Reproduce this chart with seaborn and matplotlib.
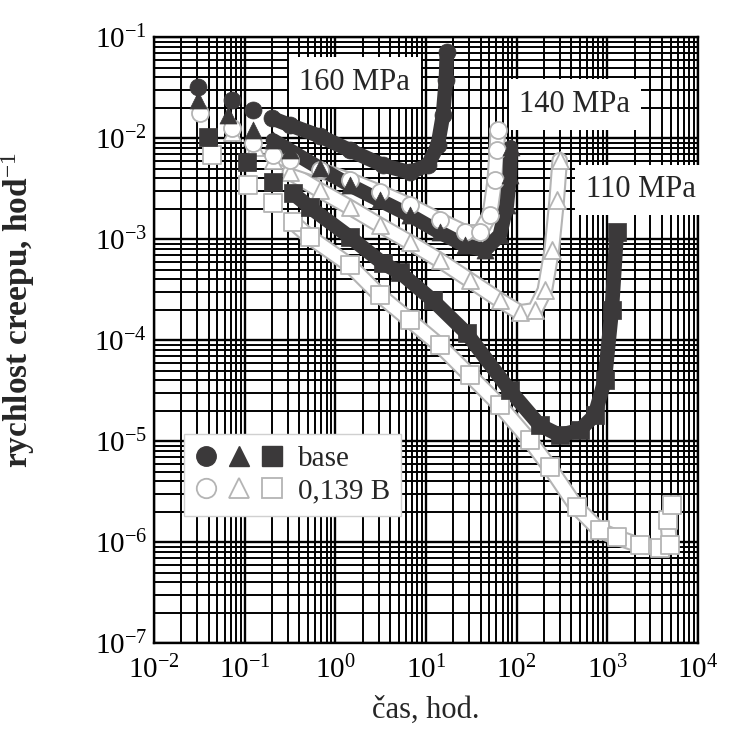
import numpy as np
import pandas as pd
import matplotlib
matplotlib.use("Agg")
import matplotlib.pyplot as plt
import matplotlib.patheffects as pe
from matplotlib.lines import Line2D
from matplotlib.legend_handler import HandlerTuple
from matplotlib.ticker import LogLocator, FuncFormatter, NullFormatter
import seaborn as sns

# ---------------- data ----------------
# 160 MPa, base (filled circles)
t_160_base = [0.0305, 0.0724, 0.124, 0.200, 0.315, 0.676, 1.45, 3.35, 6.64, 10.5, 13.5, 15.4, 16.6, 17.0]
r_160_base = [0.0320, 0.0238, 0.0189, 0.0158, 0.0135, 0.0105, 0.0076, 0.00541, 0.0046, 0.00541, 0.00853, 0.0169, 0.0375, 0.071]
# 160 MPa, 0,139 B (open circles)
t_160_b = [0.0321, 0.0724, 0.124, 0.205, 0.315, 0.676, 1.45, 3.10, 6.64, 14.2, 26.8, 39.3, 50.6, 57.5, 60.5, 62.1]
r_160_b = [0.0177, 0.0126, 0.00891, 0.00679, 0.00605, 0.00482, 0.00384, 0.00292, 0.00217, 0.00154, 0.00117, 0.00117, 0.00173, 0.00384, 0.0076, 0.0120]
# 140 MPa, base (filled triangles)
t_140_base = [0.0305, 0.0655, 0.124, 0.205, 0.315, 0.676, 1.45, 3.10, 6.64, 14.2, 26.8, 44.6, 65.3, 78.0, 84.1, 86.3]
r_140_base = [0.0238, 0.0169, 0.0120, 0.00955, 0.0076, 0.00505, 0.00343, 0.00243, 0.00173, 0.00117, 0.000873, 0.000778, 0.00110, 0.00217, 0.0043, 0.00815]
# 140 MPa, 0,139 B (open triangles)
t_140_b = [0.0724, 0.130, 0.205, 0.315, 0.676, 1.45, 3.10, 6.64, 14.2, 30.5, 65.3, 108, 159, 205, 244, 277, 299]
r_140_b = [0.0115, 0.00815, 0.00605, 0.0046, 0.00305, 0.00207, 0.00138, 0.000933, 0.000619, 0.000393, 0.000249, 0.000189, 0.000198, 0.000313, 0.000778, 0.00243, 0.00605]
# 110 MPa, base (filled squares)
t_110_base = [0.0394, 0.106, 0.205, 0.341, 0.525, 1.45, 3.35, 5.15, 11.9, 28.2, 84.1, 180, 299, 498, 728, 938, 1122, 1274]
r_110_base = [0.0102, 0.00578, 0.00366, 0.00285, 0.00207, 0.00105, 0.000578, 0.000471, 0.000249, 0.000117, 3.20e-5, 1.44e-5, 1.15e-5, 1.29e-5, 1.81e-5, 4.02e-5, 1.98e-4, 1.17e-3]
# 110 MPa, 0,139 B (open squares)
t_110_b = [0.0435, 0.109, 0.205, 0.341, 0.525, 1.45, 3.10, 6.64, 14.2, 30.5, 65.3, 140, 232, 461, 826, 1274, 2280, 3793, 4887, 4645, 5140]
r_110_b = [0.00679, 0.00343, 0.00227, 0.00147, 0.00105, 0.000553, 0.000279, 0.000158, 8.91e-5, 4.50e-5, 2.27e-5, 1.02e-5, 5.53e-6, 2.22e-6, 1.31e-6, 1.12e-6, 9.33e-7, 8.73e-7, 9.33e-7, 1.65e-6, 2.32e-6]

stress_labels = ["160 MPa", "140 MPa", "110 MPa"]
legend_labels = ["base", "0,139 B"]
x_label = "čas, hod."
y_label = "rychlost creepu, hod$^{-1}$"

# ---------------- style ----------------
sns.set_theme(style="white")
plt.rcParams["font.family"] = ["Liberation Serif", "DejaVu Serif"]
plt.rcParams["mathtext.fontset"] = "custom"
plt.rcParams["mathtext.rm"] = "Liberation Serif"
plt.rcParams["mathtext.it"] = "Liberation Serif:italic"
plt.rcParams["mathtext.bf"] = "Liberation Serif:bold"

DARK = "#3b393a"
EDGE = "#b4b4b4"
BAND_START = 3

fig = plt.figure(figsize=(7.30, 7.31), dpi=100)
ax = fig.add_axes([0.211, 0.120, 0.745, 0.829])
ax.set_xscale("log")
ax.set_yscale("log")
ax.set_xlim(1e-2, 1e4)
ax.set_ylim(1e-7, 1e-1)

# grid like graph paper
ax.set_axisbelow(True)
for axis in (ax.xaxis, ax.yaxis):
    axis.set_major_locator(LogLocator(base=10, numticks=20))
    axis.set_minor_locator(LogLocator(base=10, subs=np.arange(2, 10), numticks=20))
    axis.set_minor_formatter(NullFormatter())
ax.grid(True, which="major", color="black", linewidth=1.7)
ax.grid(True, which="minor", color="black", linewidth=1.4)
for sp in ax.spines.values():
    sp.set_color("black")
    sp.set_linewidth(1.7)

fmt = FuncFormatter(lambda v, p: r"$\mathregular{10^{%d}}$" % int(round(np.log10(v))))
ax.xaxis.set_major_formatter(fmt)
ax.yaxis.set_major_formatter(fmt)
ax.tick_params(which="both", length=0, labelsize=21, colors="black")
ax.tick_params(axis="x", pad=9)
ax.tick_params(axis="y", pad=5)

series = [
    (t_110_b, r_110_b, "s", False),
    (t_140_b, r_140_b, "^", False),
    (t_160_b, r_160_b, "o", False),
    (t_110_base, r_110_base, "s", True),
    (t_140_base, r_140_base, "^", True),
    (t_160_base, r_160_base, "o", True),
]

for t, r, mk, filled in series:
    df = pd.DataFrame({"t": t, "r": r})
    band = df.iloc[BAND_START:]
    if filled:
        sns.lineplot(data=band, x="t", y="r", sort=False, ax=ax, color=DARK,
                     linewidth=10.5, solid_capstyle="round", solid_joinstyle="round", zorder=3)
        sns.scatterplot(data=df, x="t", y="r", marker=mk, s=150, color=DARK,
                        edgecolor=DARK, linewidth=0.5, ax=ax, zorder=4)
    else:
        ln = sns.lineplot(data=band, x="t", y="r", sort=False, ax=ax, color="white",
                          linewidth=9, solid_capstyle="round", solid_joinstyle="round", zorder=3)
        ln.lines[-1].set_path_effects([pe.Stroke(linewidth=12, foreground=EDGE), pe.Normal()])
        sns.scatterplot(data=df, x="t", y="r", marker=mk, s=150, color="white",
                        edgecolor=EDGE, linewidth=1.3, ax=ax, zorder=4)

ax.set_xlabel(x_label, fontsize=22, labelpad=8)
ax.set_ylabel(y_label, fontsize=24, fontweight="bold", labelpad=36)
ax.yaxis.set_label_coords(-0.215, 0.55)

# stress annotations
box = dict(boxstyle="square,pad=0.35", facecolor="white", edgecolor="none")
ax.text(0.369, 0.926, stress_labels[0], transform=ax.transAxes, fontsize=22,
        ha="center", va="center", bbox=box, zorder=6)
ax.text(0.774, 0.889, stress_labels[1], transform=ax.transAxes, fontsize=22,
        ha="center", va="center", bbox=box, zorder=6)
ax.text(0.895, 0.748, stress_labels[2], transform=ax.transAxes, fontsize=22,
        ha="center", va="center", bbox=box, zorder=6, clip_on=False)

# legend
def h(marker, filled):
    if filled:
        return Line2D([], [], linestyle="none", marker=marker, markersize=14,
                      markerfacecolor=DARK, markeredgecolor=DARK)
    return Line2D([], [], linestyle="none", marker=marker, markersize=14,
                  markerfacecolor="white", markeredgecolor=EDGE, markeredgewidth=1.3)

handles = [(h("o", True), h("^", True), h("s", True)),
           (h("o", False), h("^", False), h("s", False))]
leg = ax.legend(handles, legend_labels, handler_map={tuple: HandlerTuple(ndivide=None, pad=0.4)},
                loc="upper left", bbox_to_anchor=(0.028, 0.37), fontsize=21,
                handlelength=3.0, handletextpad=0.5, borderpad=0.4, labelspacing=0.2,
                frameon=True, fancybox=False, framealpha=1, edgecolor="#d0d0d0")
leg.set_zorder(7)

fig.savefig("out.png", dpi=100, facecolor="white")
